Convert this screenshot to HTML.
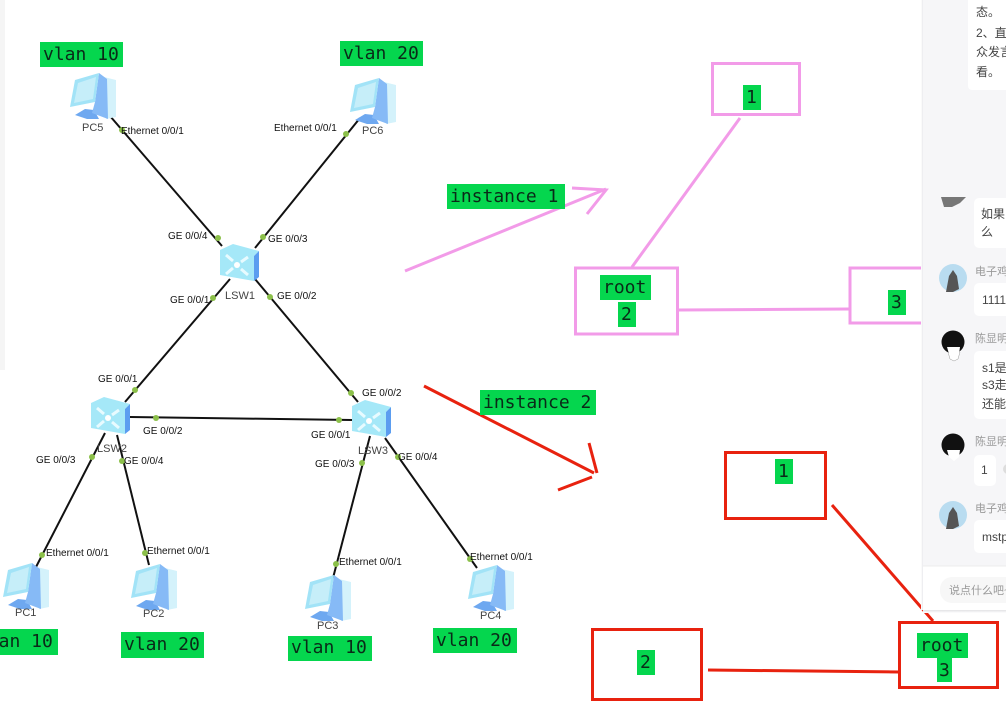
<!DOCTYPE html>
<html lang="zh">
<head>
<meta charset="utf-8">
<title>MSTP topology</title>
<style>
html,body{margin:0;padding:0;background:#fff;width:1006px;height:711px;overflow:hidden}
svg{display:block;position:absolute;left:0;top:0;filter:blur(.35px)}
.p{font:10px "Liberation Sans",sans-serif;fill:#111}
.n{font:11px "Liberation Sans",sans-serif;fill:#444}
.g{font:18px "DejaVu Sans Mono","Liberation Mono",monospace;fill:#0a2a18}
.c{font:12px "Liberation Sans","Noto Sans CJK SC",sans-serif;fill:#444}
.u{font:11px "Liberation Sans","Noto Sans CJK SC",sans-serif;fill:#999}
</style>
</head>
<body>
<svg width="1006" height="711" viewBox="0 0 1006 711" xmlns="http://www.w3.org/2000/svg">
<defs>
<linearGradient id="edge" x1="0" x2="1" y1="0" y2="0"><stop offset="0" stop-color="#fff"/><stop offset="1" stop-color="#e9e9ec"/></linearGradient>
<linearGradient id="edgeb" x1="0" x2="0" y1="0" y2="1"><stop offset="0" stop-color="#e2e2e4"/><stop offset="1" stop-color="#fff"/></linearGradient>
<symbol id="pc" width="48" height="48" viewBox="0 0 48 48" overflow="visible">
  <polygon points="35,5 47,8 47,45 37,47" fill="#d4f2fb"/>
  <polygon points="6,43 16,37 25,38 30,47 18,47" fill="#6ea8f0"/>
  <polygon points="30,1 38,7 39,47 23,41 26,30" fill="#86baf6"/>
  <polygon points="6,8 30,1 26,30 1,35" fill="#a2e3f7"/>
  <polygon points="9,11 27,5 24,27 5,31" fill="#c6eef9"/>
</symbol>
<symbol id="sw" width="40" height="38" viewBox="0 0 40 38" overflow="visible">
  <polygon points="0,6 13,0 39,7 34,12 34,37 0,31" fill="#a5e8f8"/>
  <polygon points="34,12 39,7 39,33 34,37" fill="#5b9df0"/>
  <circle cx="17" cy="21" r="3" fill="#fff"/>
  <path d="M6 11l7 6M28 13l-7 5M6 30l7-6M28 31l-7-6" stroke="#e8fbff" stroke-width="3" fill="none"/>
</symbol>
</defs>

<rect x="0" y="0" width="5" height="370" fill="#f5f5f5"/>

<!-- network links -->
<g stroke="#111" stroke-width="2" fill="none">
  <line x1="110" y1="116" x2="222" y2="246"/>
  <line x1="360" y1="118" x2="255" y2="248"/>
  <line x1="230" y1="279" x2="125" y2="402"/>
  <line x1="255" y1="279" x2="358" y2="402"/>
  <line x1="130" y1="417" x2="352" y2="420"/>
  <line x1="105" y1="433" x2="36" y2="567"/>
  <line x1="117" y1="435" x2="149" y2="565"/>
  <line x1="370" y1="436" x2="333" y2="578"/>
  <line x1="385" y1="438" x2="477" y2="568"/>
</g>

<!-- devices -->
<use href="#pc" x="69" y="72"/>
<use href="#pc" x="349" y="77"/>
<use href="#pc" x="2" y="562"/>
<use href="#pc" x="130" y="563"/>
<use href="#pc" x="304" y="574"/>
<use href="#pc" x="467" y="564"/>
<use href="#sw" x="220" y="244"/>
<use href="#sw" x="91" y="397"/>
<use href="#sw" x="352" y="400"/>

<!-- ports -->
<g fill="#8cc04a">
  <circle cx="122" cy="130" r="3"/><circle cx="346" cy="134" r="3"/>
  <circle cx="218" cy="238" r="3"/><circle cx="263" cy="237" r="3"/>
  <circle cx="213" cy="298" r="3"/><circle cx="270" cy="297" r="3"/>
  <circle cx="135" cy="390" r="3"/><circle cx="156" cy="418" r="3"/>
  <circle cx="92" cy="457" r="3"/><circle cx="122" cy="461" r="3"/>
  <circle cx="42" cy="555" r="3"/><circle cx="145" cy="553" r="3"/>
  <circle cx="351" cy="393" r="3"/><circle cx="339" cy="420" r="3"/>
  <circle cx="362" cy="463" r="3"/><circle cx="398" cy="457" r="3"/>
  <circle cx="336" cy="564" r="3"/><circle cx="470" cy="559" r="3"/>
</g>

<!-- port labels -->
<text class="p" x="121" y="134">Ethernet 0/0/1</text>
<text class="p" x="274" y="131">Ethernet 0/0/1</text>
<text class="p" x="168" y="239">GE 0/0/4</text>
<text class="p" x="268" y="242">GE 0/0/3</text>
<text class="p" x="170" y="303">GE 0/0/1</text>
<text class="p" x="277" y="299">GE 0/0/2</text>
<text class="p" x="98" y="382">GE 0/0/1</text>
<text class="p" x="143" y="434">GE 0/0/2</text>
<text class="p" x="36" y="463">GE 0/0/3</text>
<text class="p" x="124" y="464">GE 0/0/4</text>
<text class="p" x="46" y="556">Ethernet 0/0/1</text>
<text class="p" x="147" y="554">Ethernet 0/0/1</text>
<text class="p" x="362" y="396">GE 0/0/2</text>
<text class="p" x="311" y="438">GE 0/0/1</text>
<text class="p" x="315" y="467">GE 0/0/3</text>
<text class="p" x="398" y="460">GE 0/0/4</text>
<text class="p" x="339" y="565">Ethernet 0/0/1</text>
<text class="p" x="470" y="560">Ethernet 0/0/1</text>

<!-- device names -->
<text class="n" x="82" y="131">PC5</text>
<text class="n" x="362" y="134">PC6</text>
<text class="n" x="225" y="299">LSW1</text>
<text class="n" x="97" y="452">LSW2</text>
<text class="n" x="358" y="454">LSW3</text>
<text class="n" x="15" y="616">PC1</text>
<text class="n" x="143" y="617">PC2</text>
<text class="n" x="317" y="629">PC3</text>
<text class="n" x="480" y="619">PC4</text>

<!-- pink annotation -->
<g stroke="#f29be8" stroke-width="3" fill="none">
  <rect x="712.5" y="63.5" width="87" height="51"/>
  <rect x="575.5" y="268" width="102" height="66"/>
  <rect x="850" y="268" width="90" height="55"/>
  <line x1="740" y1="118" x2="632" y2="267"/>
  <line x1="679" y1="310" x2="850" y2="309"/>
  <line x1="405" y1="271" x2="606" y2="189"/>
  <polyline points="572,188 606,190 587,214"/>
</g>

<!-- red annotation -->
<g stroke="#e8220f" stroke-width="3" fill="none">
  <rect x="725.5" y="452.5" width="100" height="66"/>
  <rect x="592.5" y="629.5" width="109" height="70"/>
  <rect x="899.5" y="622.5" width="98" height="65"/>
  <line x1="424" y1="386" x2="594" y2="473"/>
  <line x1="589" y1="443" x2="597" y2="473"/>
  <line x1="558" y1="490" x2="592" y2="477"/>
  <line x1="832" y1="505" x2="933" y2="621"/>
  <line x1="708" y1="670" x2="899" y2="672"/>
</g>

<!-- green tags -->
<g fill="#05d64e">
  <rect x="40" y="42" width="83" height="25"/>
  <rect x="340" y="41" width="83" height="25"/>
  <rect x="447" y="184" width="118" height="25"/>
  <rect x="480" y="390" width="116" height="25"/>
  <rect x="-26" y="629" width="84" height="26"/>
  <rect x="121" y="632" width="83" height="26"/>
  <rect x="288" y="636" width="84" height="25"/>
  <rect x="433" y="628" width="84" height="25"/>
  <rect x="743" y="85" width="18" height="25"/>
  <rect x="600" y="275" width="51" height="25"/>
  <rect x="618" y="302" width="18" height="25"/>
  <rect x="888" y="290" width="18" height="25"/>
  <rect x="775" y="459" width="18" height="25"/>
  <rect x="637" y="650" width="18" height="25"/>
  <rect x="917" y="633" width="51" height="25"/>
  <rect x="937" y="658" width="15" height="24"/>
</g>
<text class="g" x="43" y="60">vlan 10</text>
<text class="g" x="343" y="59">vlan 20</text>
<text class="g" x="450" y="202">instance 1</text>
<text class="g" x="483" y="408">instance 2</text>
<text class="g" x="-23" y="647">vlan 10</text>
<text class="g" x="124" y="650">vlan 20</text>
<text class="g" x="291" y="653">vlan 10</text>
<text class="g" x="436" y="646">vlan 20</text>
<text class="g" x="746" y="103">1</text>
<text class="g" x="603" y="293">root</text>
<text class="g" x="621" y="320">2</text>
<text class="g" x="891" y="308">3</text>
<text class="g" x="778" y="477">1</text>
<text class="g" x="640" y="668">2</text>
<text class="g" x="920" y="651">root</text>
<text class="g" x="939" y="676">3</text>

<!-- chat side panel -->
<rect x="921" y="0" width="2" height="610" fill="url(#edge)"/>
<rect x="923" y="0" width="83" height="610" fill="#f6f6f8"/>
<rect x="923" y="610" width="83" height="3" fill="url(#edgeb)"/>
<rect x="923" y="566" width="83" height="44" fill="#fff"/>
<line x1="923" y1="566" x2="1006" y2="566" stroke="#ececec"/>
<rect x="940" y="577" width="80" height="26" rx="12" fill="#f7f7f7"/>
<text class="u" x="949" y="594">说点什么吧~</text>

<rect x="968" y="-10" width="50" height="100" rx="4" fill="#fff"/>
<text class="c" x="976" y="16">态。</text>
<text class="c" x="976" y="37">2、直</text>
<text class="c" x="976" y="56">众发言</text>
<text class="c" x="976" y="76">看。</text>

<path d="M941 197h25l-6 6-8 4h-8z" fill="#777"/>
<rect x="974" y="198" width="50" height="50" rx="5" fill="#fff"/>
<text class="c" x="981" y="218">如果</text>
<text class="c" x="981" y="236">么</text>

<circle cx="953" cy="278" r="14" fill="#b9dcf0"/>
<path d="M946 292l3-16 4-6 4 6 2 13-6 3z" fill="#555"/>
<text class="u" x="975" y="275">电子鸡</text>
<rect x="974" y="283" width="50" height="33" rx="5" fill="#fff"/>
<text class="c" x="982" y="304">1111</text>

<path d="M948 352h12l-2 7-4 2-4-2z" fill="#fff" stroke="#999" stroke-width=".5"/>
<circle cx="953" cy="342" r="11.5" fill="#111"/>
<path d="M947 347h13l-1 7-5 4-5-4z" fill="#fff"/>
<text class="u" x="975" y="342">陈显明</text>
<rect x="974" y="351" width="50" height="68" rx="5" fill="#fff"/>
<text class="c" x="982" y="372">s1是</text>
<text class="c" x="982" y="389">s3走</text>
<text class="c" x="982" y="408">还能</text>

<circle cx="953" cy="445" r="11.5" fill="#111"/>
<path d="M947 450h13l-1 7-5 4-5-4z" fill="#fff"/>
<text class="u" x="975" y="445">陈显明</text>
<rect x="974" y="455" width="22" height="31" rx="5" fill="#fff"/>
<text class="c" x="981" y="474">1</text>
<circle cx="1008" cy="469" r="5" fill="#ddd"/>

<circle cx="953" cy="515" r="14" fill="#b9dcf0"/>
<path d="M946 529l3-16 4-6 4 6 2 13-6 3z" fill="#555"/>
<text class="u" x="975" y="512">电子鸡</text>
<rect x="974" y="520" width="50" height="33" rx="5" fill="#fff"/>
<text class="c" x="982" y="541">mstp</text>
</svg>
</body>
</html>
